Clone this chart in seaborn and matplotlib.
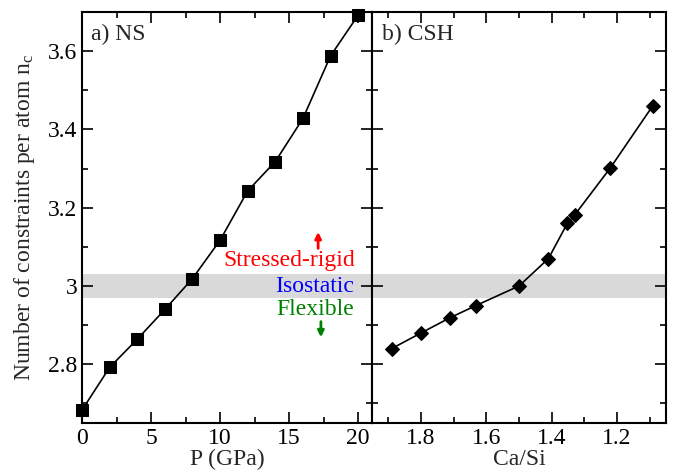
import seaborn as sns
import matplotlib.pyplot as plt
import pandas as pd
from matplotlib.ticker import MultipleLocator

# Data
pressure = [0, 2, 4, 6, 8, 10, 12, 14, 16, 18, 20]
nc_ns = [2.683, 2.792, 2.864, 2.940, 3.019, 3.117, 3.243, 3.318, 3.428, 3.588, 3.692]

ca_si = [1.89, 1.80, 1.711, 1.632, 1.50, 1.41, 1.352, 1.33, 1.221, 1.09]
nc_csh = [2.840, 2.880, 2.919, 2.950, 3.000, 3.070, 3.160, 3.181, 3.301, 3.461]

df_ns = pd.DataFrame({'P': pressure, 'nc': nc_ns})
df_csh = pd.DataFrame({'CaSi': ca_si, 'nc': nc_csh})

sns.set_theme(style="ticks")
plt.rcParams['font.family'] = ['Liberation Serif', 'DejaVu Serif']
plt.rcParams['mathtext.default'] = 'regular'
plt.rcParams['axes.linewidth'] = 1.5

fig = plt.figure(figsize=(6.73, 4.74), dpi=100)
W, H = 673, 474
ax1 = fig.add_axes([82 / W, (H - 423) / H, 290 / W, 411 / H])
ax2 = fig.add_axes([372 / W, (H - 423) / H, 294 / W, 411 / H])

sns.lineplot(data=df_ns, x='P', y='nc', ax=ax1, color='black', marker='s',
             markersize=8, markeredgecolor='black', linewidth=1.2, sort=False,
             clip_on=False, zorder=5)
sns.lineplot(data=df_csh, x='CaSi', y='nc', ax=ax2, color='black', marker='D',
             markersize=7, markeredgecolor='black', linewidth=1.2, sort=False,
             clip_on=False, zorder=5)

for ax in (ax1, ax2):
    ax.axhspan(2.97, 3.03, color='#d9d9d9', zorder=0, linewidth=0)
    ax.set_ylim(2.65, 3.70)
    ax.yaxis.set_major_locator(MultipleLocator(0.2))
    ax.yaxis.set_minor_locator(MultipleLocator(0.1))
    ax.tick_params(which='both', direction='in', top=True, right=True,
                   labelsize=17, width=1.2, colors='black')
    ax.tick_params(which='major', length=8)
    ax.tick_params(which='minor', length=4)
    for s in ax.spines.values():
        s.set_color('black')
        s.set_linewidth(1.5)

ax1.set_xlim(0, 21)
ax1.xaxis.set_major_locator(MultipleLocator(5))
ax1.xaxis.set_minor_locator(MultipleLocator(2.5))
ax1.set_yticks([2.8, 3.0, 3.2, 3.4, 3.6])
ax1.set_yticklabels(['2.8', '3', '3.2', '3.4', '3.6'])
ax1.set_xlabel('P (GPa)', fontsize=17, labelpad=0)
ax1.set_ylabel('Number of constraints per atom n$_c$', fontsize=17, labelpad=8)

ax2.set_xlim(1.95, 1.05)
ax2.xaxis.set_major_locator(MultipleLocator(0.2))
ax2.xaxis.set_minor_locator(MultipleLocator(0.1))
ax2.set_xticks([1.8, 1.6, 1.4, 1.2])
ax2.set_xticklabels(['1.8', '1.6', '1.4', '1.2'])
ax2.tick_params(labelleft=False)
ax2.set_ylabel('')
ax2.set_xlabel('Ca/Si', fontsize=17, labelpad=0)

ax1.text(0.03, 0.97, 'a) NS', transform=ax1.transAxes, fontsize=17,
         ha='left', va='top')
ax2.text(0.033, 0.97, 'b) CSH', transform=ax2.transAxes, fontsize=17,
         ha='left', va='top')

# Regime labels
ax1.text(19.8, 3.065, 'Stressed-rigid', color='red', fontsize=17, ha='right', va='center')
ax1.text(19.7, 3.0, 'Isostatic', color='blue', fontsize=17, ha='right', va='center')
ax1.text(19.7, 2.94, 'Flexible', color='green', fontsize=17, ha='right', va='center')
ax1.annotate('', xy=(17.1, 3.138), xytext=(17.1, 3.096),
             arrowprops=dict(arrowstyle='-|>', color='red', lw=2,
                             mutation_scale=9, shrinkA=0, shrinkB=0))
ax1.annotate('', xy=(17.3, 2.869), xytext=(17.3, 2.909),
             arrowprops=dict(arrowstyle='-|>', color='green', lw=2,
                             mutation_scale=9, shrinkA=0, shrinkB=0))

plt.savefig('out.png', dpi=100)
